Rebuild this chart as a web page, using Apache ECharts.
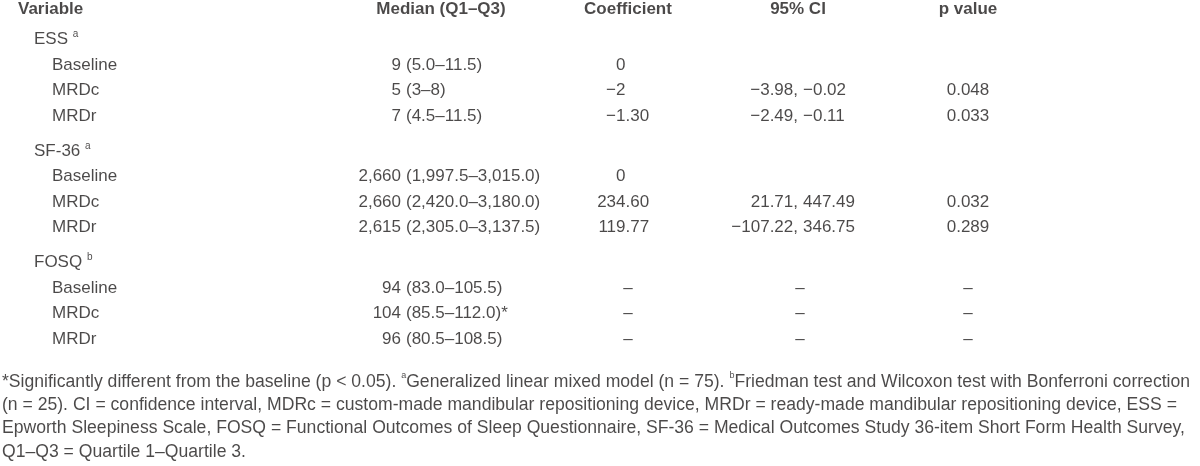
<!DOCTYPE html>
<html>
<head>
<meta charset="utf-8">
<script src="https://cdn.jsdelivr.net/npm/echarts@6/dist/echarts.min.js"></script>
<style>html,body{margin:0;padding:0;background:#fff;}#main{width:1200px;height:466px;}</style>
</head>
<body>
<div id="main"></div>
<script>
// ---- table content ----
const headers = ['Variable', 'Median (Q1–Q3)', 'Coefficient', '95% CI', 'p value'];
const groupNames = ['ESS', 'SF-36', 'FOSQ'];
const groupNotes = ['a', 'a', 'b'];
const conditionNames = ['Baseline', 'MRDc', 'MRDr'];
const medianValues = ['9', '5', '7', '2,660', '2,660', '2,615', '94', '104', '96'];
const medianRanges = ['(5.0–11.5)', '(3–8)', '(4.5–11.5)', '(1,997.5–3,015.0)', '(2,420.0–3,180.0)', '(2,305.0–3,137.5)', '(83.0–105.5)', '(85.5–112.0)*', '(80.5–108.5)'];
const coefficients = ['0', '−2', '−1.30', '0', '234.60', '119.77', '–', '–', '–'];
const ciLower = ['', '−3.98', '−2.49', '', '21.71', '−107.22', '–', '–', '–'];
const ciUpper = ['', '−0.02', '−0.11', '', '447.49', '346.75', '–', '–', '–'];
const pValues = ['', '0.048', '0.033', '', '0.032', '0.289', '–', '–', '–'];
const footnoteLines = [
  '*Significantly different from the baseline (p < 0.05). {sup|a}Generalized linear mixed model (n = 75). {sup|b}Friedman test and Wilcoxon test with Bonferroni correction',
  '(n = 25). CI = confidence interval, MDRc = custom-made mandibular repositioning device, MRDr = ready-made mandibular repositioning device, ESS =',
  'Epworth Sleepiness Scale, FOSQ = Functional Outcomes of Sleep Questionnaire, SF-36 = Medical Outcomes Study 36-item Short Form Health Survey,',
  'Q1–Q3 = Quartile 1–Quartile 3.'
];

// ---- layout (pixel scale of the hidden axes) ----
const L = {
  headerY: 9, rowStep: 25.5, firstGap: 5, groupGap: 9.5,
  varX: 18, groupX: 34, condX: 52,
  headerCenters: [441, 628, 798, 968],
  medianAnchor: 401, medianGap: 5,
  coefAnchor: 625.5, coefCenter: 628,
  ciAnchor: 798, ciGap: 5, ciCenter: 800,
  pCenter: 968,
  footX: 2, footY: 382, footStep: 23.3
};
const ink = '#1e1b1c';
const font = "'Liberation Sans', Arial, Helvetica, sans-serif";

function rowY(i, g) { return L.headerY + i * L.rowStep + L.firstGap + g * L.groupGap; }

// build rows
const rows = [];
let r = 1;
groupNames.forEach((gname, g) => {
  rows.push({ kind: 'group', g, y: rowY(r++, g) });
  conditionNames.forEach((c, ci) => rows.push({ kind: 'cond', g, c, k: g * 3 + ci, y: rowY(r++, g) }));
});
const condRows = rows.filter(d => d.kind === 'cond');

function textSeries(items, align, extra) {
  return {
    type: 'scatter', symbolSize: 0, silent: true, animation: false, clip: false,
    data: items.filter(d => d.text !== '').map(d => ({ name: d.text, value: [d.x, d.y] })),
    label: Object.assign({
      show: true, position: 'inside', align: align, verticalAlign: 'middle',
      color: ink, fontFamily: font, fontSize: 17, formatter: p => p.name,
      rich: {
        sup: { fontSize: 10, verticalAlign: 'top', lineHeight: 20, color: ink, fontFamily: font }
      }
    }, extra || {})
  };
}

const isDash = v => v === '–';
const series = [];
// headers
series.push(textSeries([{ x: L.varX, y: L.headerY, text: headers[0] }], 'left', { fontWeight: 'bold' }));
series.push(textSeries(headers.slice(1).map((h, i) => ({ x: L.headerCenters[i], y: L.headerY, text: h })), 'center', { fontWeight: 'bold' }));
// group labels
series.push(textSeries(rows.filter(d => d.kind === 'group').map(d => ({ x: L.groupX, y: d.y, text: groupNames[d.g] + ' {sup|' + groupNotes[d.g] + '}' })), 'left', { lineHeight: 20 }));
// condition labels
series.push(textSeries(condRows.map(d => ({ x: L.condX, y: d.y, text: d.c })), 'left'));
// median
series.push(textSeries(condRows.map(d => ({ x: L.medianAnchor, y: d.y, text: medianValues[d.k] })), 'right'));
series.push(textSeries(condRows.map(d => ({ x: L.medianAnchor + L.medianGap, y: d.y, text: medianRanges[d.k] })), 'left'));
// coefficient (decimal aligned)
series.push(textSeries(condRows.filter(d => !isDash(coefficients[d.k])).map(d => ({ x: L.coefAnchor, y: d.y, text: coefficients[d.k].split('.')[0] })), 'right'));
series.push(textSeries(condRows.filter(d => !isDash(coefficients[d.k]) && coefficients[d.k].indexOf('.') >= 0).map(d => ({ x: L.coefAnchor, y: d.y, text: '.' + coefficients[d.k].split('.')[1] })), 'left'));
series.push(textSeries(condRows.filter(d => isDash(coefficients[d.k])).map(d => ({ x: L.coefCenter, y: d.y, text: coefficients[d.k] })), 'center'));
// 95% CI (comma aligned)
series.push(textSeries(condRows.filter(d => ciLower[d.k] && !isDash(ciLower[d.k])).map(d => ({ x: L.ciAnchor, y: d.y, text: ciLower[d.k] + ',' })), 'right'));
series.push(textSeries(condRows.filter(d => ciUpper[d.k] && !isDash(ciUpper[d.k])).map(d => ({ x: L.ciAnchor + L.ciGap, y: d.y, text: ciUpper[d.k] })), 'left'));
series.push(textSeries(condRows.filter(d => isDash(ciLower[d.k])).map(d => ({ x: L.ciCenter, y: d.y, text: ciLower[d.k] })), 'center'));
// p value
series.push(textSeries(condRows.map(d => ({ x: L.pCenter, y: d.y, text: pValues[d.k] })), 'center'));
// footnotes
series.push(textSeries(footnoteLines.map((t, i) => ({ x: L.footX, y: L.footY + i * L.footStep, text: t })), 'left', {
  fontSize: 17.6, lineHeight: 21,
  rich: { sup: { fontSize: 9, verticalAlign: 'top', lineHeight: 21, color: ink, fontFamily: font } }
}));

const chart = echarts.init(document.getElementById('main'), null, { renderer: 'canvas' });
chart.setOption({
  animation: false,
  backgroundColor: '#ffffff',
  grid: { left: 0, right: 0, top: 0, bottom: 0 },
  xAxis: { type: 'value', min: 0, max: 1200, show: false },
  yAxis: { type: 'value', min: 0, max: 466, inverse: true, show: false },
  series: series
});
</script>
</body>
</html>
